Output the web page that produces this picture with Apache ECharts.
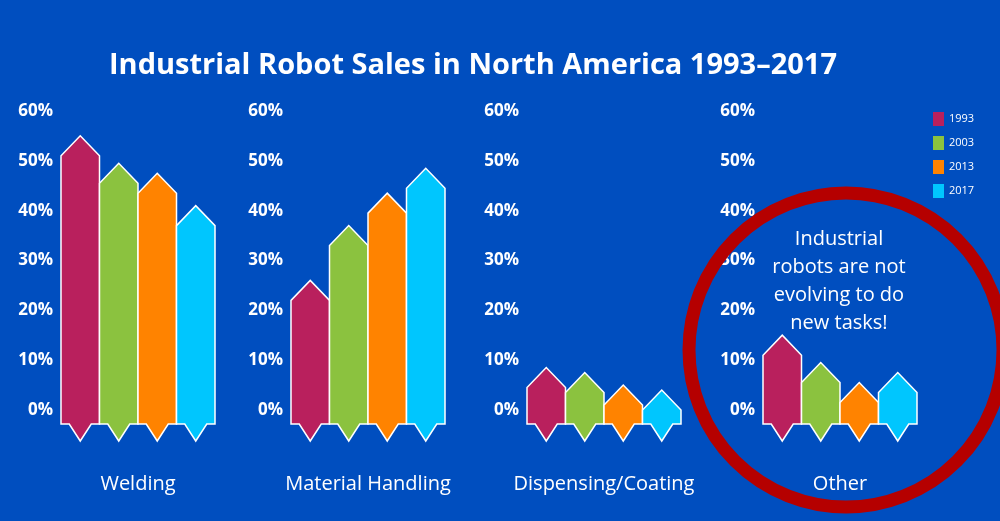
<!DOCTYPE html>
<html>
<head>
<meta charset="utf-8">
<script src="https://cdn.jsdelivr.net/npm/echarts@6/dist/echarts.min.js"></script>
<style>html,body{margin:0;padding:0;background:#004ebf;}#main{width:1000px;height:521px;}</style>
</head>
<body>
<div id="main"></div>
<script>
var years = ['1993', '2003', '2013', '2017'];
var colors = ['#b9205d', '#8bc23f', '#ff8300', '#00c6fe'];
var tasks = ['Welding', 'Material Handling', 'Dispensing/Coating', 'Other'];
// share of sales (%) per task, one value per year
var welding = [51, 45.5, 43.5, 37];
var handling = [22, 33, 39.5, 44.5];
var dispensing = [4.5, 3.5, 1, 0];
var other = [11, 5.5, 1.5, 3.5];
var values = [welding, handling, dispensing, other];
var yTicks = [0, 10, 20, 30, 40, 50, 60];

var lefts = [61, 291, 527, 763];
var chart = echarts.init(document.getElementById('main'));

function arrowBar(params, api) {
    var i = api.value(0);
    var top = api.coord([i, api.value(1)]);
    var base = api.coord([i, 0]);
    var w = api.size([1, 0])[0];
    var xl = top[0] - w / 2, xr = top[0] + w / 2, xc = top[0];
    var y0 = base[1] + 14, ys = top[1];
    return {
        type: 'polygon',
        shape: { points: [[xl, y0], [xc - 11, y0], [xc, y0 + 17], [xc + 11, y0], [xr, y0], [xr, ys], [xc, ys - 20], [xl, ys]] },
        style: { fill: api.visual('color'), stroke: '#fff', lineWidth: 1.5 }
    };
}

var grids = [], xAxes = [], yAxes = [], series = [];
for (var g = 0; g < 4; g++) {
    grids.push({ left: lefts[g], width: 154, top: 111, bottom: 111 });
    xAxes.push({
        gridIndex: g, type: 'category', data: years, show: true,
        axisLine: { show: false }, axisTick: { show: false }, axisLabel: { show: false },
        name: tasks[g], nameLocation: 'middle', nameGap: 64,
        nameTextStyle: { color: '#fff', fontSize: 20, fontFamily: 'Open Sans' }
    });
    yAxes.push({
        gridIndex: g, type: 'value', min: 0, max: 60, interval: 10,
        splitLine: { show: false }, axisLine: { show: false }, axisTick: { show: false },
        axisLabel: { color: '#fff', fontSize: 17, fontWeight: 'bold', fontFamily: 'Open Sans', margin: 8,
            formatter: function (v) { return yTicks.indexOf(v) >= 0 ? v + '%' : ''; } }
    });
    for (var k = 0; k < years.length; k++) {
        series.push({
            name: years[k], type: 'custom', xAxisIndex: g, yAxisIndex: g,
            itemStyle: { color: colors[k] },
            renderItem: arrowBar, data: [[k, values[g][k]]], z: 3
        });
    }
}

chart.setOption({
    backgroundColor: '#004ebf',
    color: colors,
    title: {
        text: 'Industrial Robot Sales in North America 1993\u20132017',
        left: 468, top: 46, textAlign: 'center',
        textStyle: { color: '#fff', fontSize: 29, fontWeight: 'bold', fontFamily: 'Open Sans' }
    },
    legend: {
        data: years, orient: 'vertical', left: 928, top: 107, icon: 'rect',
        itemWidth: 11, itemHeight: 14, itemGap: 10,
        textStyle: { color: '#fff', fontSize: 11, fontFamily: 'Open Sans' }
    },
    grid: grids, xAxis: xAxes, yAxis: yAxes, series: series,
    graphic: [
        { type: 'circle', shape: { cx: 846, cy: 350, r: 157 }, style: { fill: 'none', stroke: '#b50000', lineWidth: 13 }, z: 1 },
        { type: 'text', style: { x: 839, y: 225, text: 'Industrial\nrobots are not\nevolving to do\nnew tasks!',
            fill: '#fff', fontSize: 20, lineHeight: 28, align: 'center', verticalAlign: 'top', fontFamily: 'Open Sans' }, z: 10 }
    ]
});
</script>
</body>
</html>
